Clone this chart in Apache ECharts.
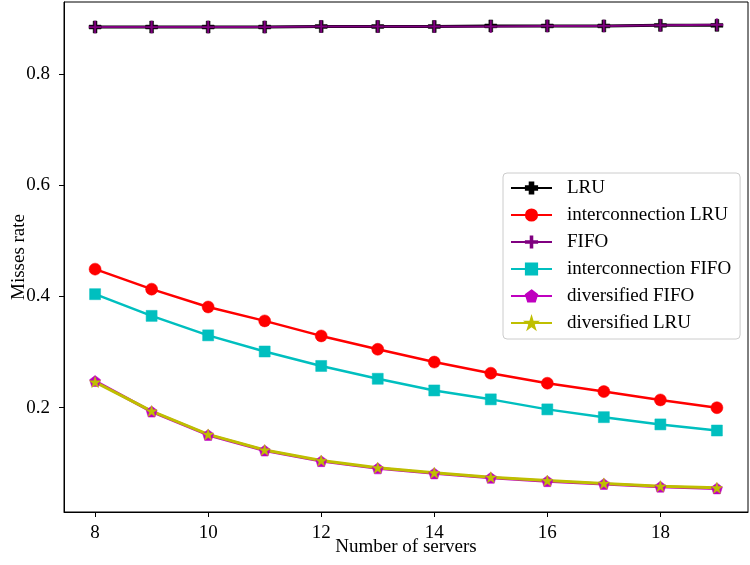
<!DOCTYPE html>
<html>
<head>
<meta charset="utf-8">
<script src="https://cdn.jsdelivr.net/npm/echarts@6/dist/echarts.min.js"></script>
<style>
  html, body { margin: 0; padding: 0; background: #fff; }
  #main { width: 750px; height: 565px; }
</style>
</head>
<body>
<div id="main"></div>
<script type="text/javascript">
  // number of servers on x
  var servers = [8, 9, 10, 11, 12, 13, 14, 15, 16, 17, 18, 19];
  var xTicks = [8, 10, 12, 14, 16, 18];
  var yTicks = [0.2, 0.4, 0.6, 0.8];

  // misses rate per policy
  var lru       = [0.884, 0.884, 0.884, 0.884, 0.885, 0.885, 0.885, 0.886, 0.886, 0.886, 0.887, 0.887];
  var interLru  = [0.449, 0.413, 0.381, 0.356, 0.329, 0.305, 0.282, 0.262, 0.244, 0.229, 0.214, 0.200];
  var fifo      = [0.884, 0.884, 0.884, 0.884, 0.885, 0.885, 0.885, 0.885, 0.886, 0.886, 0.887, 0.888];
  var interFifo = [0.404, 0.365, 0.330, 0.301, 0.275, 0.252, 0.231, 0.215, 0.197, 0.183, 0.170, 0.159];
  var divFifo   = [0.248, 0.193, 0.151, 0.123, 0.104, 0.091, 0.082, 0.074, 0.068, 0.063, 0.058, 0.055];
  var divLru    = [0.246, 0.194, 0.152, 0.124, 0.105, 0.092, 0.083, 0.075, 0.069, 0.064, 0.059, 0.056];

  var FONT = '"Liberation Serif", "Times New Roman", serif';

  // marker shapes
  var fatPlus = 'path://M3.4 0H6.6V3.4H10V6.6H6.6V10H3.4V6.6H0V3.4H3.4Z';
  var thinPlus = 'path://M4.3 0H5.7V4.3H10V5.7H5.7V10H4.3V5.7H0V4.3H4.3Z';
  var pentagon = 'path://M0 -1L0.951 -0.309L0.588 0.809L-0.588 0.809L-0.951 -0.309Z';
  var star = 'path://M0 -1L0.225 -0.309L0.951 -0.309L0.363 0.118L0.588 0.809L0 0.382L-0.588 0.809L-0.363 0.118L-0.951 -0.309L-0.225 -0.309Z';

  function pairs(vals) {
    var out = [];
    for (var i = 0; i < servers.length; i++) {
      out.push([servers[i], vals[i]]);
    }
    return out;
  }

  function line(name, vals, color, symbol, size, width) {
    return {
      name: name,
      type: 'line',
      data: pairs(vals),
      symbol: symbol,
      symbolSize: size,
      showAllSymbol: true,
      lineStyle: { color: color, width: width },
      itemStyle: { color: color, borderColor: color, borderWidth: 0.5 },
      emphasis: { disabled: true },
      animation: false
    };
  }

  var myChart = echarts.init(document.getElementById('main'));
  var option = {
    backgroundColor: '#fff',
    grid: {
      left: 64, right: 2, top: 2, bottom: 53,
      outerBoundsMode: 'none',
      containLabel: false,
      show: true, borderColor: '#000', borderWidth: 1, backgroundColor: '#fff'
    },
    legend: {
      orient: 'vertical',
      left: 503,
      top: 173,
      padding: [5, 9, 6, 7],
      itemWidth: 41,
      itemHeight: 14,
      itemGap: 7,
      backgroundColor: 'rgba(255,255,255,0.8)',
      borderColor: '#cccccc',
      borderWidth: 1,
      borderRadius: 4,
      textStyle: { fontFamily: FONT, fontSize: 19, color: '#000', lineHeight: 20, padding: [0, 0, 0, 10] },
      data: ['LRU', 'interconnection LRU', 'FIFO', 'interconnection FIFO', 'diversified FIFO', 'diversified LRU']
    },
    xAxis: {
      type: 'value',
      min: 7.45,
      max: 19.55,
      name: 'Number of servers',
      nameLocation: 'middle',
      nameGap: 26,
      nameMoveOverlap: false,
      nameTextStyle: { fontFamily: FONT, fontSize: 19, color: '#000' },
      axisLine: { show: true, lineStyle: { color: '#000', width: 1 } },
      axisTick: { show: true, length: 5, lineStyle: { color: '#000' }, customValues: xTicks },
      axisLabel: { fontFamily: FONT, fontSize: 19, color: '#000', margin: 12, customValues: xTicks },
      splitLine: { show: false }
    },
    yAxis: {
      type: 'value',
      min: 0.0126,
      max: 0.929,
      name: 'Misses rate',
      nameLocation: 'middle',
      nameGap: 35,
      nameMoveOverlap: false,
      nameTextStyle: { fontFamily: FONT, fontSize: 19, color: '#000' },
      axisLine: { show: true, lineStyle: { color: '#000', width: 1 } },
      axisTick: { show: true, length: 5, lineStyle: { color: '#000' }, customValues: yTicks },
      axisLabel: { fontFamily: FONT, fontSize: 19, color: '#000', margin: 14, customValues: yTicks },
      splitLine: { show: false }
    },
    series: [
      line('LRU', lru, '#000000', fatPlus, 12, 3),
      line('interconnection LRU', interLru, '#ff0000', 'circle', 12, 2.5),
      line('FIFO', fifo, '#800080', thinPlus, 12, 2),
      line('interconnection FIFO', interFifo, '#00bfbf', 'rect', 11, 2.5),
      line('diversified FIFO', divFifo, '#bf00bf', pentagon, 11, 3),
      line('diversified LRU', divLru, '#bfbf00', star, 11, 3)
    ]
  };
  myChart.setOption(option);
</script>
</body>
</html>
